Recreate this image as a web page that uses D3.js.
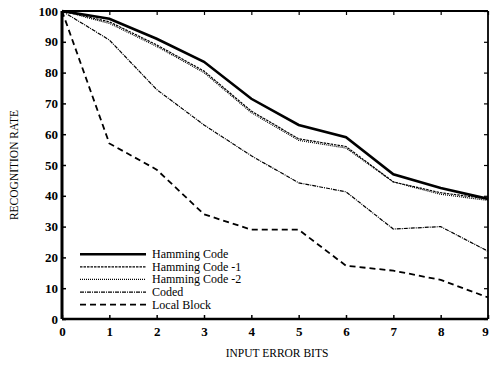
<!DOCTYPE html>
<html>
<head>
<meta charset="utf-8">
<script src="https://cdnjs.cloudflare.com/ajax/libs/d3/7.8.5/d3.min.js"></script>
<style>
  body { margin: 0; background: #fff; }
  text { font-family: "Liberation Serif", "DejaVu Serif", serif; fill: #000; }
</style>
</head>
<body>
<div id="chart"></div>
<script>
// values
var bits = [0, 1, 2, 3, 4, 5, 6, 7, 8, 9];
var hamming = [100, 97.5, 91, 83.5, 71.5, 63, 59, 47, 42.5, 39];
var hamming1 = [100, 96.5, 89, 80.5, 67.5, 58.5, 56, 44.5, 41, 39];
var hamming2 = [100, 96, 88.5, 80, 67, 58, 55.5, 44.5, 40.5, 38.5];
var coded = [100, 90.6, 74.5, 63, 53, 44.2, 41.3, 29.2, 30, 22];
var localBlock = [100, 57, 48.5, 34, 29, 29, 17.3, 15.7, 12.7, 7];
var yTicks = [0, 10, 20, 30, 40, 50, 60, 70, 80, 90, 100];

var series = [
  { name: "Hamming Code", values: hamming, width: 2.6, dash: null },
  { name: "Hamming Code -1", values: hamming1, width: 1.2, dash: "2.5,1" },
  { name: "Hamming Code -2", values: hamming2, width: 1.2, dash: "1,1" },
  { name: "Coded", values: coded, width: 1.2, dash: "4,1,1,1" },
  { name: "Local Block", values: localBlock, width: 1.8, dash: "6,4" }
];

var W = 490, H = 366;
var margin = {top: 11, right: 2, bottom: 47, left: 62};
var width = W - margin.left - margin.right,
    height = H - margin.top - margin.bottom;

var svg = d3.select("#chart")
  .append("svg")
  .attr("width", W)
  .attr("height", H)
  .append("g")
  .attr("transform", "translate(" + margin.left + "," + margin.top + ")");

var x = d3.scaleLinear().domain([0, 9]).range([0, width]);
var y = d3.scaleLinear().domain([0, 100]).range([height, 0]);

// bottom axis, ticks pointing in
svg.append("g")
  .attr("transform", "translate(0," + height + ")")
  .call(d3.axisBottom(x).tickValues(bits).tickSize(-4).tickPadding(8).tickFormat(d3.format("d")))
  .call(function(g) {
    g.select(".domain").remove();
    g.selectAll("text").attr("font-size", 13).attr("font-weight", "bold")
      .attr("font-family", "Liberation Serif")
      .attr("dx", function(d) { return d === 9 ? -3 : 0; });
    g.selectAll("line").attr("stroke-width", 1.5);
  });

// left axis
svg.append("g")
  .call(d3.axisLeft(y).tickValues(yTicks).tickSize(-4).tickPadding(4))
  .call(function(g) {
    g.select(".domain").remove();
    g.selectAll("text").attr("font-size", 13).attr("font-weight", "bold")
      .attr("font-family", "Liberation Serif");
    g.selectAll("line").attr("stroke-width", 1.5);
  });

// top and right ticks
svg.append("g")
  .call(d3.axisTop(x).tickValues(bits).tickSize(-4).tickFormat(""))
  .call(function(g) { g.select(".domain").remove(); g.selectAll("line").attr("stroke-width", 1.2); });
svg.append("g")
  .attr("transform", "translate(" + width + ",0)")
  .call(d3.axisRight(y).tickValues(yTicks).tickSize(-4).tickFormat(""))
  .call(function(g) { g.select(".domain").remove(); g.selectAll("line").attr("stroke-width", 1.2); });

// frame
svg.append("line").attr("x1", 0).attr("x2", width).attr("y1", 0).attr("y2", 0)
  .attr("stroke", "black").attr("stroke-width", 1.8);
svg.append("line").attr("x1", width).attr("x2", width).attr("y1", 0).attr("y2", height)
  .attr("stroke", "black").attr("stroke-width", 1.8);
svg.append("line").attr("x1", 0).attr("x2", width).attr("y1", height).attr("y2", height)
  .attr("stroke", "black").attr("stroke-width", 2.6);
svg.append("line").attr("x1", 0).attr("x2", 0).attr("y1", 0).attr("y2", height)
  .attr("stroke", "black").attr("stroke-width", 3);

var line = d3.line()
  .x(function(d, i) { return x(bits[i]); })
  .y(function(d) { return y(d); });

svg.selectAll(".series")
  .data(series)
  .enter()
  .append("path")
  .attr("class", "series")
  .attr("d", function(d) { return line(d.values); })
  .attr("fill", "none")
  .attr("stroke", "black")
  .attr("stroke-width", function(d) { return d.width; })
  .attr("stroke-dasharray", function(d) { return d.dash; });

// legend
var legend = svg.append("g").attr("transform", "translate(18," + (y(22) + 3) + ")");
var rows = legend.selectAll("g")
  .data(series)
  .enter()
  .append("g")
  .attr("transform", function(d, i) { return "translate(0," + (i * 12.6) + ")"; });
rows.append("line")
  .attr("x1", 0).attr("x2", 66)
  .attr("stroke", "black")
  .attr("stroke-width", function(d) { return d.width; })
  .attr("stroke-dasharray", function(d) { return d.dash; });
rows.append("text")
  .attr("x", 72)
  .attr("y", 4)
  .attr("font-size", 12)
  .text(function(d) { return d.name; });

// axis titles
svg.append("text")
  .attr("x", 215)
  .attr("y", height + 38)
  .attr("text-anchor", "middle")
  .attr("font-size", 11.5)
  .text("INPUT ERROR  BITS");

svg.append("text")
  .attr("transform", "translate(-44," + (height / 2) + ") rotate(-90)")
  .attr("text-anchor", "middle")
  .attr("font-size", 11.5)
  .text("RECOGNITION  RATE");
</script>
</body>
</html>
